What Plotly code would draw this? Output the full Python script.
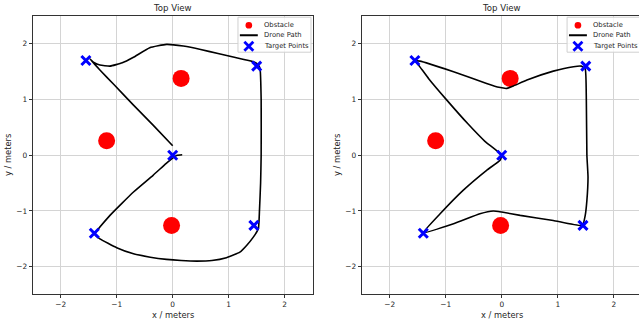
import plotly.graph_objects as go

# ---- data ----
obstacle_x = [0.15, -1.18, -0.02]
obstacle_y = [1.38, 0.26, -1.26]

target_x = [-1.55, 0.0, 1.50, 1.45, -1.40]
target_y = [1.70, 0.0, 1.60, -1.26, -1.40]

path1_x = [0.0, -0.35, -0.70, -1.05, -1.30, -1.48, -1.40, -1.30, -1.12, -0.90, -0.70, -0.41, -0.11, 0.19,
           0.50, 0.79, 1.10, 1.44, 1.53, 1.56, 1.58, 1.58, 1.57, 1.55, 1.53, 1.44, 1.32, 1.20, 0.96, 0.70,
           0.43, 0.15, -0.11, -0.40, -0.70, -1.00, -1.30, -1.39, -1.12, -0.70, -0.35, -0.12, 0.0, 0.08, 0.17]
path1_y = [0.17, 0.54, 0.90, 1.27, 1.53, 1.73, 1.66, 1.62, 1.60, 1.66, 1.76, 1.93, 1.99, 1.96,
           1.90, 1.83, 1.76, 1.68, 1.62, 1.56, 1.00, 0.00, -0.50, -0.99, -1.32, -1.47, -1.62, -1.74, -1.84, -1.89,
           -1.90, -1.89, -1.87, -1.83, -1.77, -1.66, -1.50, -1.42, -1.08, -0.66, -0.36, -0.15, -0.05, 0.00, 0.01]

path2_x = [0.0, -0.30, -0.60, -0.98, -1.30, -1.47, -1.54, -1.46, -0.86, -0.27, -0.05, 0.09, 0.20, 0.45,
           0.92, 1.28, 1.42, 1.49, 1.51, 1.52, 1.54, 1.52, 1.49, 1.44, 0.92, 0.33, 0.0, -0.15, -0.39,
           -0.86, -1.40, -1.10, -0.69, -0.27, -0.03, 0.0]
path2_y = [0.0, 0.25, 0.56, 0.99, 1.37, 1.60, 1.69, 1.69, 1.50, 1.29, 1.22, 1.20, 1.24, 1.35,
           1.51, 1.59, 1.60, 1.55, 0.99, 0.00, -0.39, -0.81, -1.08, -1.26, -1.17, -1.08, -1.02, -1.00, -1.05,
           -1.23, -1.39, -1.05, -0.63, -0.27, -0.09, 0.0]

tick_vals = [-2, -1, 0, 1, 2]
axis_range = [-2.5, 2.5]
title_text = "Top View"
x_title = "x / meters"
y_title = "y / meters"
legend_labels = ["Obstacle", "Drone Path", "Target Points"]
font_family = "DejaVu Sans"

OBST_COLOR = "#ff0000"
TARGET_COLOR = "#0000ff"
TXT = "#262626"

fig = go.Figure()

panels = [
    (path1_x, path1_y, "x", "y"),
    (path2_x, path2_y, "x2", "y2"),
]
for px_, py_, xa, ya in panels:
    fig.add_trace(go.Scatter(x=obstacle_x, y=obstacle_y, mode="markers", name=legend_labels[0],
                             marker=dict(color=OBST_COLOR, size=17, line=dict(width=0)),
                             xaxis=xa, yaxis=ya, showlegend=False))
    fig.add_trace(go.Scatter(x=px_, y=py_, mode="lines", name=legend_labels[1],
                             line=dict(color="black", width=1.6, shape="spline", smoothing=0.4),
                             xaxis=xa, yaxis=ya, showlegend=False))
    fig.add_trace(go.Scatter(x=target_x, y=target_y, mode="markers", name=legend_labels[2],
                             marker=dict(color=TARGET_COLOR, symbol="x-thin", size=9,
                                         line=dict(width=3, color=TARGET_COLOR)),
                             xaxis=xa, yaxis=ya, showlegend=False))

ax_common = dict(range=axis_range, tickvals=tick_vals, showgrid=True, gridcolor="#d4d4d4",
                 gridwidth=1, zeroline=False, showline=True, linecolor="#333333", linewidth=1,
                 mirror=True, ticks="outside", ticklen=3, tickcolor="#333333", automargin=False,
                 tickfont=dict(size=7.4, color=TXT, family=font_family))

ydom = [0.0797, 0.95]
fig.update_layout(
    width=639, height=320,
    margin=dict(l=0, r=0, t=0, b=0),
    paper_bgcolor="white", plot_bgcolor="white",
    font=dict(family=font_family, size=9, color=TXT),
    xaxis=dict(ax_common, domain=[0.0512, 0.4893], anchor="y"),
    yaxis=dict(ax_common, domain=ydom, anchor="x"),
    xaxis2=dict(ax_common, domain=[0.566, 1.0], anchor="y2", range=[-2.5, 2.45]),
    yaxis2=dict(ax_common, domain=ydom, anchor="x2"),
    showlegend=False,
)

# titles and axis labels (as text)
for xa, ya in [("x", "y"), ("x2", "y2")]:
    fig.add_annotation(text=title_text, x=0, y=2.5, xref=xa, yref=ya, yanchor="bottom", yshift=1,
                       showarrow=False, font=dict(size=8.6, color=TXT))
    fig.add_annotation(text=x_title, x=0, y=-2.5, xref=xa, yref=ya, yanchor="top", yshift=-13,
                       showarrow=False, font=dict(size=8.3, color=TXT))
    fig.add_annotation(text=y_title, x=-2.5, y=0, xref=xa, yref=ya, xanchor="right", xshift=-17,
                       textangle=-90, showarrow=False, font=dict(size=8.3, color=TXT))

# compact legend box (layout decoration, positioned in axis coordinates)
LEG_BOX = dict(x0=1.166, x1=2.47, y0=1.85, y1=2.478)
LEG_SYM_X = 1.36
LEG_LINE_X = (1.20, 1.52)
LEG_TEXT_X = 1.59
LEG_ROWS = [2.334, 2.154, 1.957]
for xa, ya in [("x", "y"), ("x2", "y2")]:
    fig.add_shape(type="rect", xref=xa, yref=ya, **LEG_BOX, line=dict(color="#d0d0d0", width=1),
                  fillcolor="rgba(255,255,255,0.8)", layer="above")
    r = 0.06
    fig.add_shape(type="circle", xref=xa, yref=ya, x0=LEG_SYM_X - r, x1=LEG_SYM_X + r,
                  y0=LEG_ROWS[0] - r, y1=LEG_ROWS[0] + r, fillcolor=OBST_COLOR,
                  line=dict(width=0), layer="above")
    fig.add_shape(type="line", xref=xa, yref=ya, x0=LEG_LINE_X[0], x1=LEG_LINE_X[1],
                  y0=LEG_ROWS[1], y1=LEG_ROWS[1], line=dict(color="black", width=1.8), layer="above")
    dx, dy = 0.08, 0.08
    for s in (1, -1):
        fig.add_shape(type="line", xref=xa, yref=ya, x0=LEG_SYM_X - dx, x1=LEG_SYM_X + dx,
                      y0=LEG_ROWS[2] - s * dy, y1=LEG_ROWS[2] + s * dy,
                      line=dict(color=TARGET_COLOR, width=2.8), layer="above")
    for lbl, yy in zip(legend_labels, LEG_ROWS):
        fig.add_annotation(text=lbl, x=LEG_TEXT_X, y=yy, xref=xa, yref=ya, xanchor="left",
                           showarrow=False, font=dict(size=6.8, color=TXT))

fig.write_html("out.html", config={"displayModeBar": False},
               post_script="document.body.style.margin='0';document.body.style.overflow='hidden';")
